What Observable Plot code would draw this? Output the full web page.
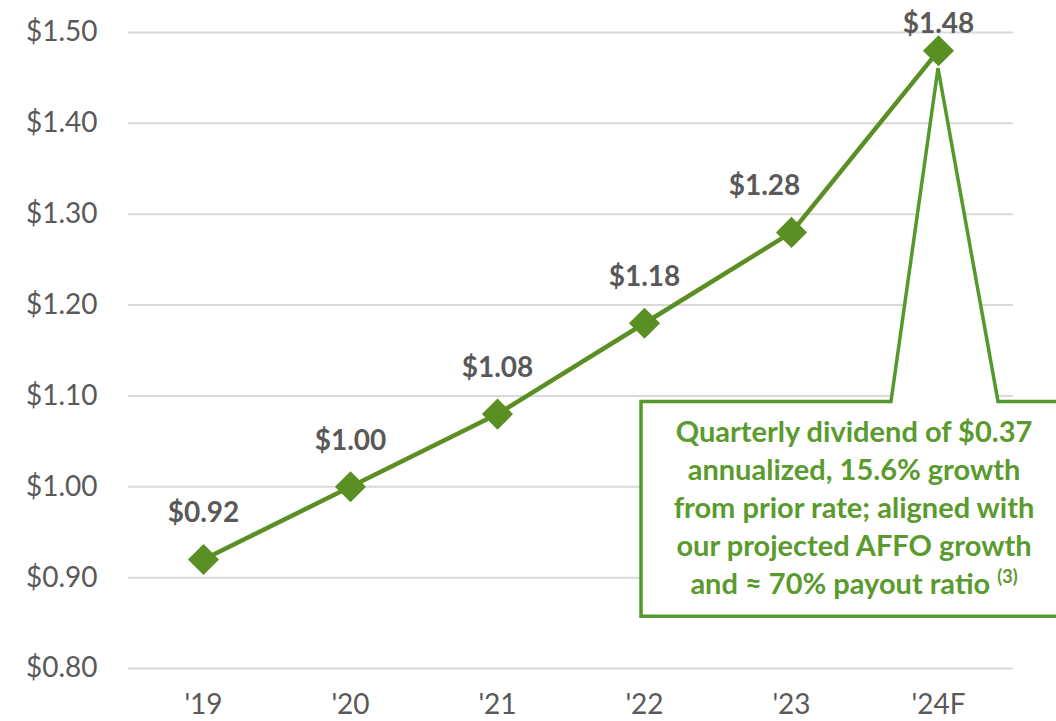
<!DOCTYPE html>
<html>
<head>
<meta charset="utf-8">
<script src="https://cdn.jsdelivr.net/npm/d3@7"></script>
<script src="https://cdn.jsdelivr.net/npm/@observablehq/plot@0.6"></script>
<style>
  html, body { margin: 0; padding: 0; background: #ffffff; }
  #chart { width: 1056px; height: 721px; overflow: hidden; }
</style>
</head>
<body>
<div id="chart"></div>
<script>
// ---- data ----
const years = ["'19", "'20", "'21", "'22", "'23", "'24F"];
const dividends = [0.92, 1.00, 1.08, 1.18, 1.28, 1.48];
const yTicks = [0.80, 0.90, 1.00, 1.10, 1.20, 1.30, 1.40, 1.50];
const calloutLines = [
  "Quarterly dividend of $0.37",
  "annualized, 15.6% growth",
  "from prior rate; aligned with",
  "our projected AFFO growth",
  "and \u2248 70% payout ratio"
];
const calloutNote = "(3)";

const LINE = "#5a8f23";
const BOX = "#55982e";
const BOXTEXT = "#5a9a2e";
const GREY = "#595959";

const data = years.map((year, i) => ({ year, value: dividends[i] }));
const fmt = d => "$" + d.toFixed(2);

const plot = Plot.plot({
  width: 1056,
  height: 721,
  marginLeft: 128,
  marginRight: 43,
  marginTop: 32,
  marginBottom: 53,
  style: { fontFamily: "Lato, 'Open Sans', sans-serif", background: "white", overflow: "visible" },
  x: { type: "point", domain: years, padding: 0.5, label: null },
  y: { domain: [0.8, 1.5], label: null },
  marks: [
    Plot.gridY(yTicks, { stroke: "#d9d9d9", strokeWidth: 2, strokeOpacity: 1 }),
    Plot.axisY(yTicks, { tickSize: 0, tickPadding: 31, fontSize: 28, fill: GREY, tickFormat: fmt, label: null }),
    Plot.axisX({ tickSize: 0, tickPadding: 26, fontSize: 28, fill: GREY, label: null }),
    Plot.line(data, { x: "year", y: "value", stroke: LINE, strokeWidth: 4.5 }),
    Plot.dot(data, { x: "year", y: "value", symbol: "diamond2", r: 14, fill: LINE, stroke: "none" }),
    Plot.text(data, {
      filter: d => d.year !== "'23" && d.year !== "'24F",
      x: "year", y: "value", text: d => fmt(d.value),
      dy: -46, fontSize: 28, fontWeight: "bold", fill: GREY
    }),
    Plot.text(data, {
      filter: d => d.year === "'23",
      x: "year", y: "value", text: d => fmt(d.value),
      dx: -27, dy: -46, fontSize: 28, fontWeight: "bold", fill: GREY
    }),
    Plot.text(data, {
      filter: d => d.year === "'24F",
      x: "year", y: "value", text: d => fmt(d.value),
      dy: -27, fontSize: 28, fontWeight: "bold", fill: GREY
    })
  ]
});

document.getElementById("chart").appendChild(plot);

// ---- callout, positioned from the plot's scales ----
(function () {
  const xs = plot.scale("x");
  const ys = plot.scale("y");
  const tipX = xs.apply("'24F");
  const tipY = ys.apply(1.48) + 18;
  const boxL = xs.apply("'22") - 3;
  const boxT = ys.apply(1.10) + 6;
  const boxB = ys.apply(0.857);
  const boxR = 1062;
  const baseL = tipX - 47;
  const baseR = tipX + 60;

  const svg = d3.select(plot);
  const g = svg.insert("g", "g[aria-label=line]").attr("class", "callout");
  g.append("path")
    .attr("d", `M${boxL},${boxT}L${baseL},${boxT}L${tipX},${tipY}L${baseR},${boxT}L${boxR},${boxT}L${boxR},${boxB}L${boxL},${boxB}Z`)
    .attr("fill", "white")
    .attr("stroke", BOX)
    .attr("stroke-width", 3.5)
    .attr("stroke-linejoin", "miter");

  const cx = boxL + 213;
  const t = g.append("text")
    .attr("text-anchor", "middle")
    .attr("font-family", "Lato, 'Open Sans', sans-serif")
    .attr("font-weight", "bold")
    .attr("font-size", 29)
    .attr("fill", BOXTEXT);
  calloutLines.forEach((line, i) => {
    const ts = t.append("tspan").attr("x", cx).attr("y", boxT + 41 + i * 38).text(line);
    if (i === calloutLines.length - 1) {
      ts.append("tspan").text("\u00a0");
      ts.append("tspan").attr("font-size", 18).attr("dy", -11).text(calloutNote);
    }
  });
})();
</script>
</body>
</html>
